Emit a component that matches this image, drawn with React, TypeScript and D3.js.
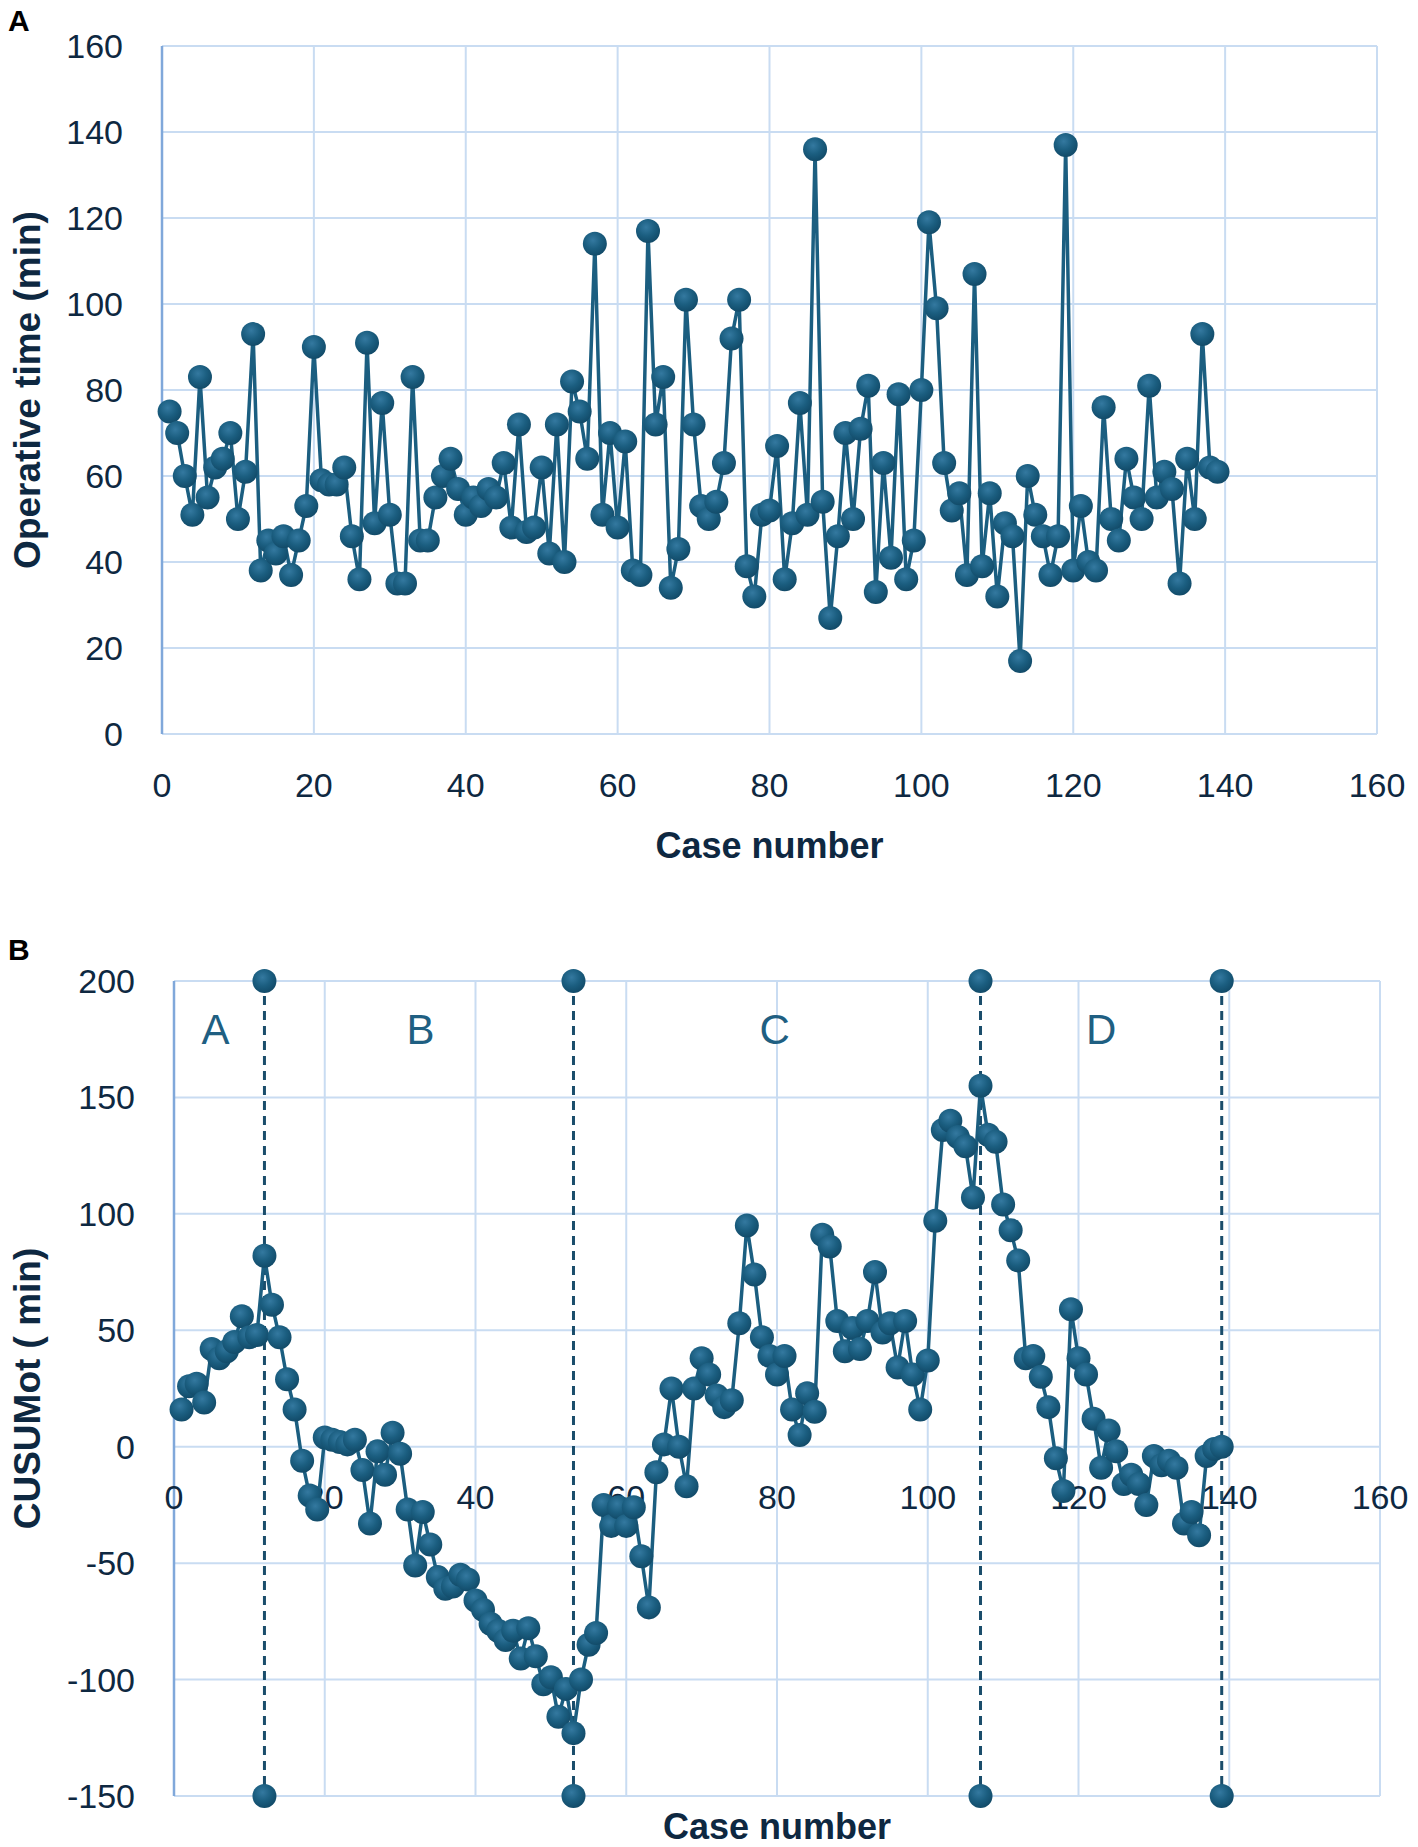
import React from 'react';
import * as d3 from 'd3';

// Panel A: operative time per case (min)
const operativeTime = [
  75, 70, 60, 51, 83, 55, 62, 64, 70, 50,
  61, 93, 38, 45, 42, 46, 37, 45, 53, 90,
  59, 58, 58, 62, 46, 36, 91, 49, 77, 51,
  35, 35, 83, 45, 45, 55, 60, 64, 57, 51,
  55, 53, 57, 55, 63, 48, 72, 47, 48, 62,
  42, 72, 40, 82, 75, 64, 114, 51, 70, 48,
  68, 38, 37, 117, 72, 83, 34, 43, 101, 72,
  53, 50, 54, 63, 92, 101, 39, 32, 51, 52,
  67, 36, 49, 77, 51, 136, 54, 27, 46, 70,
  50, 71, 81, 33, 63, 41, 79, 36, 45, 80,
  119, 99, 63, 52, 56, 37, 107, 39, 56, 32,
  49, 46, 17, 60, 51, 46, 37, 46, 137, 38,
  53, 40, 38, 76, 50, 45, 64, 55, 50, 81,
  55, 61, 57, 35, 64, 50, 93, 62, 61,
];

// Panel B: CUSUM of operative time (min)
const cusumOt = [
  16, 26, 27, 19, 42, 38, 41, 45, 56, 47,
  48, 82, 61, 47, 29, 16, -6, -21, -27, 4,
  3, 2, 1, 3, -10, -33, -2, -12, 6, -3,
  -27, -51, -28, -42, -56, -61, -60, -55, -57, -66,
  -70, -76, -79, -83, -79, -91, -78, -90, -102, -99,
  -116, -104, -123, -100, -85, -80, -25, -34, -26, -34,
  -26, -47, -69, -11, 1, 25, 0, -17, 25, 38,
  31, 22, 17, 20, 53, 95, 74, 47, 39, 31,
  39, 16, 5, 23, 15, 91, 86, 54, 41, 51,
  42, 54, 75, 49, 53, 34, 54, 31, 16, 37,
  97, 136, 140, 133, 129, 107, 155, 134, 131, 104,
  93, 80, 38, 39, 30, 17, -5, -19, 59, 38,
  31, 12, -9, 7, -2, -16, -12, -16, -25, -4,
  -8, -6, -9, -33, -28, -38, -4, -1, 0,
];

const caseTicks = [0, 20, 40, 60, 80, 100, 120, 140, 160];
const timeTicks = [0, 20, 40, 60, 80, 100, 120, 140, 160];
const cusumTicks = [-150, -100, -50, 0, 50, 100, 150, 200];

// phase boundaries (case numbers) and phase labels
const phaseBreaks = [12, 53, 107, 139];
const phaseNames = ['A', 'B', 'C', 'D'];
const phaseNameAt = [5.5, 32.7, 79.7, 123];

const FONT = '"Liberation Sans", Arial, sans-serif';
const TEXT = '#0e2841';
const GRID = '#c9dcf2';
const AXIS = '#80a8da';
const MARK = '#1b5e80';

type Pt = [number, number];

function Dots({ pts }: { pts: Pt[] }) {
  return (
    <g>
      {pts.map((p, i) => (
        <circle key={i} cx={p[0]} cy={p[1]} r={12} fill="url(#dot)" />
      ))}
    </g>
  );
}

export default function App() {
  // ---- panel A scales
  const xA = d3.scaleLinear().domain([0, 160]).range([162, 1377]);
  const yA = d3.scaleLinear().domain([0, 160]).range([734, 46]);

  // ---- panel B scales
  const xB = d3.scaleLinear().domain([0, 160]).range([174, 1380]);
  const yB = d3.scaleLinear().domain([-150, 200]).range([1796, 981]);

  const ptsA: Pt[] = operativeTime.map((v, i) => [xA(i + 1), yA(v)]);
  const ptsB: Pt[] = cusumOt.map((v, i) => [xB(i + 1), yB(v)]);
  const line = d3.line<Pt>().x(d => d[0]).y(d => d[1]);

  const breakDots: Pt[] = phaseBreaks.flatMap(c => [
    [xB(c), yB(200)] as Pt,
    [xB(c), yB(-150)] as Pt,
  ]);

  return (
    <svg
      width={1418}
      height={1847}
      style={{ position: 'absolute', left: 0, top: 0, background: '#fff' }}
      fontFamily={FONT}
    >
      <defs>
        <radialGradient id="dot" cx="42%" cy="35%" r="65%">
          <stop offset="0%" stopColor="#3479a0" />
          <stop offset="55%" stopColor="#1b5e80" />
          <stop offset="100%" stopColor="#124b69" />
        </radialGradient>
      </defs>
      <rect width={1418} height={1847} fill="#fff" />

      {/* ================= Panel A ================= */}
      <text x={8} y={31} fontSize={30} fontWeight="bold" fill="#000">A</text>
      <g>
        {timeTicks.map(t => (
          <line key={'ha' + t} x1={xA(0)} x2={xA(160)} y1={yA(t)} y2={yA(t)}
            stroke={GRID} strokeWidth={2} />
        ))}
        {caseTicks.slice(1).map(t => (
          <line key={'va' + t} x1={xA(t)} x2={xA(t)} y1={yA(0)} y2={yA(160)}
            stroke={GRID} strokeWidth={2} />
        ))}
        <line x1={xA(0)} x2={xA(0)} y1={yA(0)} y2={yA(160)} stroke={AXIS} strokeWidth={2.5} />
        {timeTicks.map(t => (
          <text key={'ya' + t} x={xA(0) - 39} y={yA(t) + 12} textAnchor="end"
            fontSize={34} fill={TEXT}>{t}</text>
        ))}
        {caseTicks.map(t => (
          <text key={'xa' + t} x={xA(t)} y={797} textAnchor="middle"
            fontSize={34} fill={TEXT}>{t}</text>
        ))}
        <text x={xA(80)} y={858} textAnchor="middle" fontSize={36} fontWeight="bold"
          fill={TEXT}>Case number</text>
        <text transform={`translate(40, ${(yA(0) + yA(160)) / 2}) rotate(-90)`}
          textAnchor="middle" fontSize={37} fontWeight="bold" fill={TEXT}>
          Operative time (min)
        </text>
        <path d={line(ptsA) ?? ''} fill="none" stroke={MARK} strokeWidth={3.5} />
        <Dots pts={ptsA} />
      </g>

      {/* ================= Panel B ================= */}
      <text x={8} y={960} fontSize={30} fontWeight="bold" fill="#000">B</text>
      <g>
        {cusumTicks.map(t => (
          <line key={'hb' + t} x1={xB(0)} x2={xB(160)} y1={yB(t)} y2={yB(t)}
            stroke={GRID} strokeWidth={2} />
        ))}
        {caseTicks.slice(1).map(t => (
          <line key={'vb' + t} x1={xB(t)} x2={xB(t)} y1={yB(-150)} y2={yB(200)}
            stroke={GRID} strokeWidth={2} />
        ))}
        <line x1={xB(0)} x2={xB(0)} y1={yB(-150)} y2={yB(200)} stroke={AXIS} strokeWidth={2.5} />
        {cusumTicks.map(t => (
          <text key={'yb' + t} x={xB(0) - 39} y={yB(t) + 12} textAnchor="end"
            fontSize={34} fill={TEXT}>{t}</text>
        ))}
        {caseTicks.map(t => (
          <text key={'xb' + t} x={xB(t)} y={yB(0) + 62} textAnchor="middle"
            fontSize={34} fill={TEXT}>{t}</text>
        ))}
        <text x={xB(80)} y={1839} textAnchor="middle" fontSize={36} fontWeight="bold"
          fill={TEXT}>Case number</text>
        <text transform={`translate(40, ${(yB(-150) + yB(200)) / 2}) rotate(-90)`}
          textAnchor="middle" fontSize={37} fontWeight="bold" fill={TEXT}>
          CUSUMot ( min)
        </text>

        {phaseNames.map((n, i) => (
          <text key={n} x={xB(phaseNameAt[i])} y={yB(173)} textAnchor="middle"
            fontSize={42} fill="#1f5f82">{n}</text>
        ))}
        {phaseBreaks.map(c => (
          <line key={'d' + c} x1={xB(c)} x2={xB(c)} y1={yB(200)} y2={yB(-150)}
            stroke="#1a4d6b" strokeWidth={3} strokeDasharray="9 6" />
        ))}
        <Dots pts={breakDots} />

        <path d={line(ptsB) ?? ''} fill="none" stroke={MARK} strokeWidth={3.5} />
        <Dots pts={ptsB} />
      </g>
    </svg>
  );
}
